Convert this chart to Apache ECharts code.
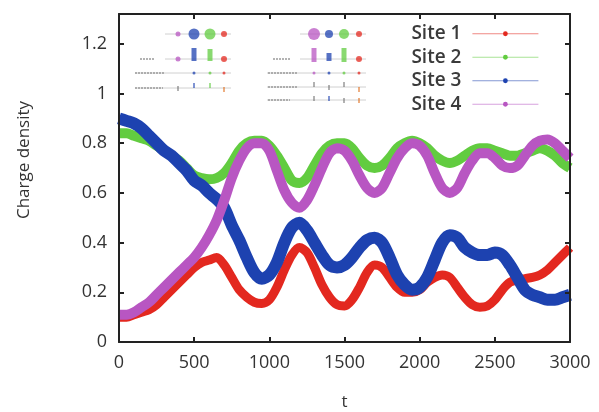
<!DOCTYPE html>
<html>
<head>
<meta charset="utf-8">
<script src="https://cdn.jsdelivr.net/npm/echarts@6/dist/echarts.min.js"></script>
<style>
  html, body { margin: 0; padding: 0; background: #fff; }
  #chart { width: 599px; height: 412px; }
</style>
</head>
<body>
<div id="chart"></div>
<script>
// time grid, step 50
const times = [
  0, 50, 100, 150, 200, 250, 300, 350, 400, 450, 500, 550, 600, 650, 700, 750, 800, 850, 900, 950,
  1000, 1050, 1100, 1150, 1200, 1250, 1300, 1350, 1400, 1450, 1500, 1550, 1600, 1650, 1700, 1750, 1800, 1850, 1900, 1950,
  2000, 2050, 2100, 2150, 2200, 2250, 2300, 2350, 2400, 2450, 2500, 2550, 2600, 2650, 2700, 2750, 2800, 2850, 2900, 2950,
  3000
]

const site1 = [
  0.10, 0.10, 0.11, 0.12, 0.13, 0.15, 0.18, 0.21, 0.24, 0.27, 0.30, 0.32, 0.33, 0.34, 0.31, 0.26, 0.21, 0.18, 0.16, 0.155,
  0.17, 0.22, 0.29, 0.35, 0.38, 0.36, 0.30, 0.23, 0.18, 0.15, 0.145, 0.17, 0.22, 0.28, 0.31, 0.30, 0.26, 0.22, 0.20, 0.20,
  0.21, 0.24, 0.26, 0.27, 0.26, 0.22, 0.18, 0.15, 0.14, 0.145, 0.17, 0.21, 0.24, 0.25, 0.255, 0.26, 0.27, 0.29, 0.32, 0.35,
  0.38
]

const site2 = [
  0.84, 0.84, 0.83, 0.82, 0.81, 0.79, 0.77, 0.75, 0.73, 0.70, 0.67, 0.66, 0.655, 0.66, 0.68, 0.72, 0.77, 0.80, 0.81, 0.81,
  0.79, 0.75, 0.70, 0.65, 0.64, 0.66, 0.71, 0.76, 0.79, 0.80, 0.80, 0.78, 0.74, 0.71, 0.70, 0.71, 0.74, 0.78, 0.80, 0.81,
  0.80, 0.78, 0.75, 0.73, 0.72, 0.73, 0.75, 0.77, 0.78, 0.78, 0.77, 0.76, 0.75, 0.75, 0.76, 0.77, 0.78, 0.77, 0.75, 0.72,
  0.70
]

const site3 = [
  0.90, 0.89, 0.88, 0.86, 0.83, 0.80, 0.77, 0.75, 0.72, 0.69, 0.65, 0.63, 0.60, 0.575, 0.54, 0.47, 0.41, 0.34, 0.28, 0.255,
  0.27, 0.32, 0.40, 0.46, 0.48, 0.45, 0.40, 0.35, 0.31, 0.30, 0.31, 0.34, 0.38, 0.41, 0.42, 0.40, 0.34, 0.27, 0.23, 0.21,
  0.22, 0.26, 0.33, 0.40, 0.43, 0.42, 0.38, 0.36, 0.35, 0.35, 0.36, 0.35, 0.31, 0.26, 0.21, 0.19, 0.18, 0.17, 0.17, 0.18,
  0.19
]

const site4 = [
  0.11, 0.11, 0.12, 0.14, 0.16, 0.19, 0.22, 0.25, 0.28, 0.31, 0.34, 0.38, 0.43, 0.49, 0.57, 0.66, 0.73, 0.78, 0.80, 0.80,
  0.77, 0.69, 0.61, 0.56, 0.54, 0.57, 0.63, 0.70, 0.76, 0.78, 0.77, 0.73, 0.67, 0.62, 0.60, 0.62, 0.68, 0.74, 0.78, 0.80,
  0.79, 0.75, 0.68, 0.62, 0.60, 0.62, 0.68, 0.73, 0.76, 0.76, 0.74, 0.71, 0.70, 0.71, 0.75, 0.79, 0.81, 0.815, 0.80, 0.77,
  0.74
]

const siteNames = ['Site 1', 'Site 2', 'Site 3', 'Site 4']
const siteColors = ['#e3281f', '#62cc40', '#1d42b0', '#b856c2']
const siteWidths = [9, 10, 12, 10]
const xTicks = [0, 3000, 500]
const yTicks = [0, 1.32, 0.2]

const pair = (vals) => times.map((t, i) => [t, vals[i]])
const siteData = [site1, site2, site3, site4]

const font = '"Open Sans", "DejaVu Sans", sans-serif'
const axisColor = '#222'

const chart = echarts.init(document.getElementById('chart'))

// small inset sketches at the top of the plot
const faded = (c) => echarts.color.modifyAlpha(c, 0.75)
const insetLine = (x1, x2, y) => ({
  type: 'line', shape: { x1, y1: y, x2, y2: y },
  style: { stroke: '#d0d0d0', lineWidth: 1 }, silent: true
})
const dot = (cx, cy, r, c) => ({ type: 'circle', shape: { cx, cy, r }, style: { fill: faded(c) }, silent: true })
const bar = (cx, y1, y2, w, c) => ({
  type: 'rect', shape: { x: cx - w / 2, y: y1, width: w, height: y2 - y1 },
  style: { fill: faded(c) }, silent: true
})
const tinyText = (x1, x2, y) => ({
  type: 'line', shape: { x1, y1: y, x2, y2: y },
  style: { stroke: '#9a9a9a', lineWidth: 1.5, lineDash: [2, 1] }, silent: true
})
const tick = (cx, y, c) => ({
  type: 'line', shape: { x1: cx, y1: y - 3, x2: cx, y2: y + 2 },
  style: { stroke: faded(c), lineWidth: 1.5 }, silent: true
})
const [cR, cG, cB, cP] = siteColors
const insets = [
  insetLine(165, 231, 34), dot(178, 34, 2.5, cP), dot(194, 34, 5.5, cB), dot(210, 34, 5.5, cG), dot(224, 34, 3, cR),
  insetLine(165, 231, 59), tinyText(140, 155, 59), dot(178, 59, 2.5, cP), bar(194, 48, 61, 5, cB), bar(210, 49, 61, 5, cG), dot(224, 59, 3, cR),
  insetLine(135, 231, 73), tinyText(135, 165, 73), dot(194, 73, 1.5, cB), dot(210, 73, 1.5, cG), dot(224, 73, 1.5, cR),
  insetLine(135, 231, 88), tinyText(135, 163, 88), tick(178, 89, '#777'), tick(194, 86, cB), tick(210, 86, cG), tick(224, 90, '#e07020'),
  insetLine(300, 366, 34), dot(314, 34, 6, cP), dot(329, 34, 4, cB), dot(344, 34, 5, cG), dot(359, 34, 3, cR),
  insetLine(300, 366, 59), tinyText(273, 290, 59), bar(314, 48, 62, 5, cP), bar(329, 53, 61, 5, cB), bar(344, 48, 62, 5, cG), dot(359, 59, 3, cR),
  insetLine(267, 366, 73), tinyText(268, 298, 73), dot(314, 73, 1.5, cP), dot(329, 73, 1.5, cB), dot(344, 73, 1.5, cG), dot(359, 73, 1.5, cR),
  insetLine(267, 366, 87), tinyText(268, 298, 87), tick(314, 85, '#777'), tick(329, 88, '#777'), tick(344, 85, '#777'), tick(359, 90, '#e07020'),
  insetLine(267, 366, 100), tinyText(268, 290, 100), tick(314, 99, '#777'), tick(329, 99, cB), tick(344, 101, '#777'), tick(359, 101, '#e07020')
]

const lineAxis = { show: true, onZero: false, lineStyle: { color: axisColor, width: 2 } }
const inTicks = { show: true, inside: true, length: 5, lineStyle: { color: axisColor, width: 2 } }

const option = {
  animation: false,
  textStyle: { fontFamily: font },
  grid: { left: 119, right: 29, top: 14, bottom: 70, outerBoundsMode: 'none' },
  legend: {
    orient: 'vertical',
    right: 55,
    top: 19,
    align: 'right',
    itemWidth: 66,
    itemHeight: 6,
    itemGap: 4,
    selectedMode: false,
    lineStyle: { width: 1.2, opacity: 0.55 },
    textStyle: { fontFamily: font, fontSize: 19, fontWeight: 600, color: '#3a3a3a', lineHeight: 19.5, padding: [0, 6, 0, 0] },
    data: siteNames
  },
  xAxis: [
    {
      type: 'value', min: xTicks[0], max: xTicks[1], interval: xTicks[2],
      name: 't', nameLocation: 'middle', nameGap: 52,
      nameTextStyle: { fontSize: 17, color: '#333', fontFamily: font },
      axisLine: lineAxis, axisTick: inTicks,
      axisLabel: { fontSize: 18, color: '#333', margin: 12, fontFamily: font, formatter: (v) => String(v) },
      splitLine: { show: false }, z: 10
    },
    {
      type: 'value', position: 'top', min: xTicks[0], max: xTicks[1], interval: xTicks[2],
      axisLine: lineAxis, axisTick: inTicks,
      axisLabel: { show: false }, splitLine: { show: false }, z: 10
    }
  ],
  yAxis: [
    {
      type: 'value', min: yTicks[0], max: yTicks[1], interval: yTicks[2],
      name: 'Charge density', nameLocation: 'middle', nameGap: 86,
      nameTextStyle: { fontSize: 17, color: '#333', fontFamily: font, padding: [0, 0, 0, 36] },
      axisLine: lineAxis, axisTick: inTicks,
      axisLabel: { fontSize: 18, color: '#333', margin: 12, showMaxLabel: false, fontFamily: font },
      splitLine: { show: false }, z: 10
    },
    {
      type: 'value', position: 'right', min: yTicks[0], max: yTicks[1], interval: yTicks[2],
      axisLine: lineAxis, axisTick: inTicks,
      axisLabel: { show: false }, splitLine: { show: false }, z: 10
    }
  ],
  series: siteNames.map((name, i) => ({
    name,
    type: 'line',
    data: pair(siteData[i]),
    smooth: 0.3,
    symbol: 'circle',
    symbolSize: 5,
    showSymbol: false,
    color: siteColors[i],
    lineStyle: { width: siteWidths[i], color: siteColors[i] },
    emphasis: { disabled: true },
    z: 2 + i
  })),
  graphic: insets
}

chart.setOption(option)
</script>
</body>
</html>
